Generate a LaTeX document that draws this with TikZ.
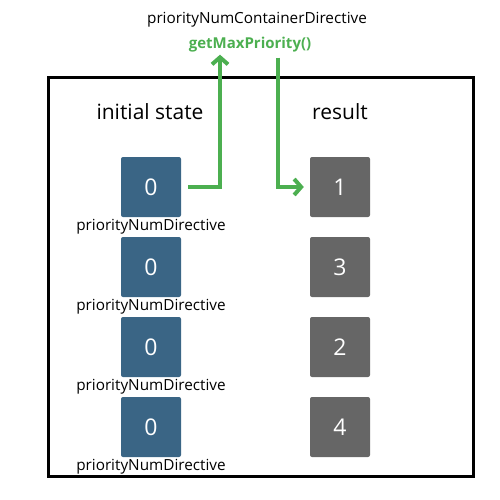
\documentclass[tikz,border=0pt]{standalone}
\usepackage{fontspec}
\setmainfont{Open Sans}
\usetikzlibrary{arrows.meta,positioning}
\definecolor{numblue}{HTML}{3A6585}
\definecolor{numgray}{HTML}{666666}
\definecolor{callgreen}{HTML}{4CAF50}

\begin{document}
\begin{tikzpicture}[x=1pt,y=-1pt,node distance=80pt,on grid,
    initbox/.style={rectangle,rounded corners=2pt,fill=numblue,text=white,
        minimum size=60pt,inner sep=0pt,font=\fontsize{23}{26}\selectfont},
    resbox/.style={initbox,fill=numgray},
    tag/.style={inner sep=0pt,font=\fontsize{15.3}{18}\selectfont},
    head/.style={inner sep=0pt,font=\fontsize{21}{24}\selectfont},
    flow/.style={draw=callgreen,line width=4pt,-{Straight Barb[length=7pt,width=16pt]}}]
    \useasboundingbox (0,0) rectangle (500,500);
    \draw[line width=3pt] (48,78) rectangle (473,476);
    % call on the container
    \node[tag] (cont) at (257,20) {priorityNumContainerDirective};
    \node[tag,text=callgreen,font=\fontsize{15}{18}\selectfont\bfseries] (call) at (250,45) {getMaxPriority()};
    % initial state
    \node[head] (ihead) at (150,112) {initial state};
    \node[initbox] (i1) at (151,187) {0};
    \node[initbox,below=of i1] (i2) {0};
    \node[initbox,below=of i2] (i3) {0};
    \node[initbox,below=of i3] (i4) {0};
    \node[tag,below=40pt of i1] (n1) {priorityNumDirective};
    \node[tag,below=40pt of i2] (n2) {priorityNumDirective};
    \node[tag,below=40pt of i3] (n3) {priorityNumDirective};
    \node[tag,below=40pt of i4] (n4) {priorityNumDirective};
    % result
    \node[head] (rhead) at (340,112) {result};
    \node[resbox] (r1) at (340,187) {1};
    \node[resbox,below=of r1] (r2) {3};
    \node[resbox,below=of r2] (r3) {2};
    \node[resbox,below=of r3] (r4) {4};
    \draw[flow,shorten <=7pt] (i1.east) -| ([xshift=-30pt,yshift=-2pt]call.south);
    \draw[flow,shorten >=6pt] ([xshift=28pt,yshift=-5pt]call.south) |- (r1.west);
\end{tikzpicture}
\end{document}
